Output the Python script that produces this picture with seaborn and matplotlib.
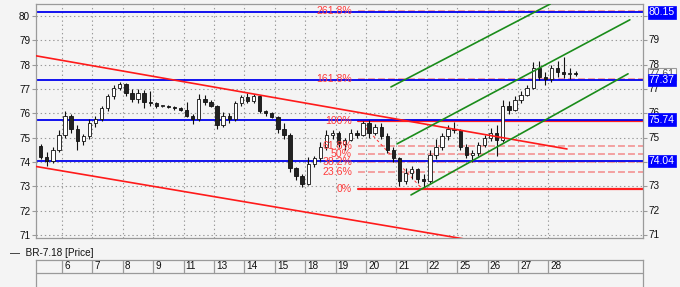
import numpy as np
import pandas as pd
import matplotlib
matplotlib.use("Agg")
import matplotlib.pyplot as plt
import matplotlib.transforms as mtransforms
import seaborn as sns

# ---------------- data ----------------
day_labels = ['6', '7', '8', '9', '11', '13', '14', '15', '18', '19', '20',
              '21', '22', '25', '26', '27', '28']
bars_per_day = 5
first_bar = -4  # bars before the "6" boundary

opens = [74.65, 74.20, 74.05, 74.50, 75.10, 75.90, 75.35, 74.85, 75.05, 75.60,
         75.75, 76.20, 76.70, 77.05, 77.20, 76.85, 76.60, 76.85, 76.45, 76.40,
         76.30, 76.30, 76.25, 76.20, 76.15, 75.90, 75.75, 76.60, 76.45, 76.30,
         75.50, 75.90, 75.75, 76.40, 76.65, 76.50, 76.70, 76.10, 76.00, 75.85,
         75.35, 75.10, 73.75, 73.40, 73.10, 73.90, 74.15, 74.60, 75.10, 75.20,
         74.75, 74.90, 75.20, 75.10, 75.60, 75.20, 75.45, 75.05, 74.50, 74.15,
         73.20, 73.55, 73.70, 73.30, 73.20, 74.30, 74.60, 75.05, 75.35, 75.30,
         74.60, 74.30, 74.35, 74.70, 75.00, 75.20, 74.90, 76.30, 76.15, 76.55,
         76.75, 77.05, 77.85, 77.50, 77.40, 77.85, 77.70, 77.60, 77.65]
highs = [74.75, 74.40, 74.60, 75.30, 76.10, 75.95, 75.50, 75.15, 75.75, 75.90,
         76.30, 76.80, 77.15, 77.30, 77.25, 77.00, 77.00, 76.95, 76.90, 76.45,
         76.35, 76.32, 76.30, 76.25, 76.45, 75.95, 76.80, 76.75, 76.55, 76.35,
         76.05, 76.00, 76.50, 76.75, 76.85, 76.80, 76.75, 76.15, 76.05, 75.90,
         75.60, 75.20, 73.80, 73.50, 74.20, 74.25, 74.80, 75.30, 75.30, 75.25,
         75.00, 75.35, 75.30, 75.70, 75.72, 75.55, 75.60, 75.20, 74.60, 74.20,
         73.75, 73.85, 73.75, 73.50, 74.50, 74.95, 75.20, 75.50, 75.65, 75.35,
         74.75, 74.50, 74.80, 75.10, 75.40, 75.50, 76.55, 76.50, 76.70, 76.90,
         77.15, 78.10, 78.15, 77.70, 78.00, 78.15, 78.30, 77.85, 77.75]
lows = [74.10, 73.85, 73.95, 74.40, 75.00, 75.20, 74.50, 74.70, 74.95, 75.45,
        75.70, 76.10, 76.60, 76.95, 76.70, 76.45, 76.40, 76.20, 76.30, 76.20,
        76.25, 76.22, 76.15, 76.10, 75.85, 75.55, 75.70, 76.35, 76.25, 75.35,
        75.45, 75.60, 75.70, 76.30, 76.40, 76.40, 76.00, 75.90, 75.80, 75.20,
        74.95, 73.60, 73.25, 72.97, 73.05, 73.80, 74.05, 74.50, 74.95, 74.60,
        74.50, 74.85, 75.00, 75.05, 75.00, 75.10, 74.95, 74.35, 74.00, 73.00,
        73.10, 73.30, 73.15, 72.95, 73.15, 74.10, 74.50, 74.90, 75.20, 74.50,
        74.15, 74.00, 74.25, 74.60, 74.85, 74.25, 74.80, 75.95, 76.10, 76.40,
        76.70, 77.00, 77.35, 77.15, 77.30, 77.50, 77.45, 77.40, 77.55]
closes = [74.20, 74.05, 74.50, 75.10, 75.90, 75.35, 74.85, 75.05, 75.60, 75.75,
          76.20, 76.70, 77.05, 77.20, 76.85, 76.60, 76.85, 76.45, 76.40, 76.30,
          76.30, 76.25, 76.20, 76.15, 75.90, 75.75, 76.60, 76.45, 76.30, 75.50,
          75.90, 75.75, 76.40, 76.65, 76.50, 76.70, 76.10, 76.00, 75.85, 75.35,
          75.10, 73.75, 73.40, 73.10, 73.90, 74.15, 74.60, 75.10, 75.20, 74.75,
          74.90, 75.20, 75.10, 75.60, 75.20, 75.45, 75.05, 74.50, 74.15, 73.20,
          73.55, 73.70, 73.30, 73.20, 74.30, 74.60, 75.05, 75.35, 75.30, 74.60,
          74.30, 74.35, 74.70, 75.00, 75.20, 74.90, 76.30, 76.15, 76.55, 76.75,
          77.05, 77.85, 77.50, 77.40, 77.85, 77.70, 77.60, 77.65, 77.61]

h_levels = [80.15, 77.37, 75.74, 74.04]
h_level_labels = ['80.15', '77.37', '75.74', '74.04']
last_price = 77.61
last_price_label = '77.61'

fib_labels = ['0%', '23.6%', '38.2%', '50%', '61.8%', '100%', '161.8%', '261.8%']
fib_prices = [72.90, 73.57, 73.99, 74.33, 74.66, 75.70, 77.40, 80.19]
fib_solid = [True, False, False, False, False, True, False, False]
fib_start_x = 48.7
fib_label_x = 47.7
fib_diag_x = [48.7, 59.2]
fib_diag_y = [75.74, 72.90]

red_upper_x = [-4.28, 83.06]
red_upper_y = [78.36, 74.53]
red_lower_x = [-4.28, 67.1]
red_lower_y = [73.81, 70.79]
green_upper_x = [54.1, 80.3]
green_upper_y = [77.08, 80.49]
green_mid_x = [55.1, 93.4]
green_mid_y = [74.74, 79.84]
green_lower_x = [57.4, 93.1]
green_lower_y = [72.64, 77.62]

y_ticks = [71, 72, 73, 74, 75, 76, 77, 78, 79, 80]
right_tick_labels = [71, 72, 73, 75, 76, 77, 78, 79]  # 74 and 80 sit under the blue boxes
x_limits = (-4.28, 95.56)
y_limits = (70.87, 80.49)

# ---------------- style ----------------
sns.set_style("white")
plt.rcParams['font.family'] = ['Liberation Sans', 'DejaVu Sans']
plt.rcParams['lines.scale_dashes'] = False
BG = '#f4f4f4'
GRID = '#9a9a9a'
SPINE = '#9a9a9a'

fig = plt.figure(figsize=(6.8, 2.87), dpi=100)
fig.patch.set_facecolor(BG)
ax = fig.add_axes([36 / 680, 1 - 238 / 287, 607 / 680, 234 / 287])
ax.set_facecolor(BG)
ax.set_xlim(*x_limits)
ax.set_ylim(*y_limits)

day_pos = np.arange(len(day_labels)) * bars_per_day
# grid
for xp in day_pos:
    ax.axvline(xp, color=GRID, lw=0.8, ls=(0, (1, 2)), zorder=0)
for yv in y_ticks:
    ax.axhline(yv, color=GRID, lw=0.8, ls=(0, (1, 2)), zorder=0)

# candles
cx = np.arange(len(opens)) + first_bar + 0.5
o = np.array(opens); c = np.array(closes)
h = np.array(highs); l = np.array(lows)
ax.vlines(cx, l, h, color='#111111', lw=0.8, zorder=3)
up = c >= o
body_bottom = np.minimum(o, c)
body_h = np.maximum(np.abs(c - o), 0.02)
ax.bar(cx[up], body_h[up], bottom=body_bottom[up], width=0.55,
       color='#ffffff', edgecolor='#111111', linewidth=0.6, zorder=4)
ax.bar(cx[~up], body_h[~up], bottom=body_bottom[~up], width=0.55,
       color='#222222', edgecolor='#111111', linewidth=0.6, zorder=4)

# fib levels
for lab, pr, solid in zip(fib_labels, fib_prices, fib_solid):
    if solid:
        ax.plot([fib_start_x, x_limits[1]], [pr, pr], color='#ff2020', lw=1.6, zorder=2)
    else:
        ax.plot([fib_start_x, x_limits[1]], [pr, pr], color='#f3a0a0', lw=1.4,
                dashes=(5, 2.2), zorder=2)
    ax.text(fib_label_x, pr, lab, ha='right', va='center', color='#ff3c3c',
            fontsize=7.6, zorder=6)
ax.plot(fib_diag_x, fib_diag_y, color='#ff3030', lw=0.7, dashes=(2, 2), zorder=2)

# blue horizontal levels
for lv in h_levels:
    ax.axhline(lv, color='#0000ee', lw=1.3, zorder=2.5)

# trend lines via seaborn
line_df = pd.DataFrame({
    'x': red_upper_x + red_lower_x + green_upper_x + green_mid_x + green_lower_x,
    'y': red_upper_y + red_lower_y + green_upper_y + green_mid_y + green_lower_y,
    'line': ['ru'] * 2 + ['rl'] * 2 + ['gu'] * 2 + ['gm'] * 2 + ['gl'] * 2,
})
palette = {'ru': '#ff1a1a', 'rl': '#ff1a1a', 'gu': '#1a8c1a', 'gm': '#1a8c1a', 'gl': '#1a8c1a'}
sns.lineplot(data=line_df, x='x', y='y', hue='line', units='line', estimator=None,
             sort=False, palette=palette, lw=1.2, legend=False, ax=ax, zorder=5)
ax.set_xlim(*x_limits)
ax.set_ylim(*y_limits)
ax.set_xlabel('')
ax.set_ylabel('')

# axes styling
ax.set_xticks([])
ax.set_yticks(y_ticks)
ax.set_yticklabels([str(v) for v in y_ticks])
ax.tick_params(axis='y', which='both', left=True, right=True, labelleft=True,
               labelright=False, length=3, width=0.8, color=SPINE, pad=1.2,
               labelsize=7.2, labelcolor='#111111')
for sp in ax.spines.values():
    sp.set_color(SPINE)
    sp.set_linewidth(0.9)

trans = mtransforms.blended_transform_factory(ax.transAxes, ax.transData)
# right-side tick labels
for v in right_tick_labels:
    ax.text(1.0085, v, str(v), transform=trans, ha='left', va='center',
            fontsize=7.2, color='#111111', clip_on=False, zorder=15)

# right-side price boxes
ax.text(1.0095, last_price, last_price_label, transform=trans, ha='left', va='center',
        fontsize=7.5, color='#555555', clip_on=False, zorder=20,
        bbox=dict(boxstyle='square,pad=0.12', fc='#fafafa', ec='#9a9a9a', lw=0.8))
for lv, lab in zip(h_levels, h_level_labels):
    ax.text(1.0095, lv, lab, transform=trans, ha='left', va='center',
            fontsize=7.5, color='white', clip_on=False, zorder=21,
            bbox=dict(boxstyle='square,pad=0.12', fc='#0000ff', ec='#0000ff', lw=0.5))

# legend text
fig.text(10 / 680, 1 - 253 / 287, '\u2014  BR-7.18 [Price]', fontsize=7.2,
         color='#111111', va='center', ha='left')

# date strip
dax = fig.add_axes([36 / 680, 0, 607 / 680, 27 / 287])
dax.set_facecolor(BG)
dax.set_xlim(*x_limits)
dax.set_ylim(0, 1)
dax.set_xticks([]); dax.set_yticks([])
for name, sp in dax.spines.items():
    sp.set_color(SPINE)
    sp.set_linewidth(0.9)
dax.spines['bottom'].set_visible(False)
dax.axhline(0.52, color=SPINE, lw=0.9)
for xp, lab in zip(day_pos, day_labels):
    dax.plot([xp, xp], [0.52, 1.0], color=SPINE, lw=0.9)
    dax.text(xp + 0.35, 0.76, lab, ha='left', va='center', fontsize=7.2, color='#111111')

fig.savefig('out.png', dpi=100, facecolor=BG)
